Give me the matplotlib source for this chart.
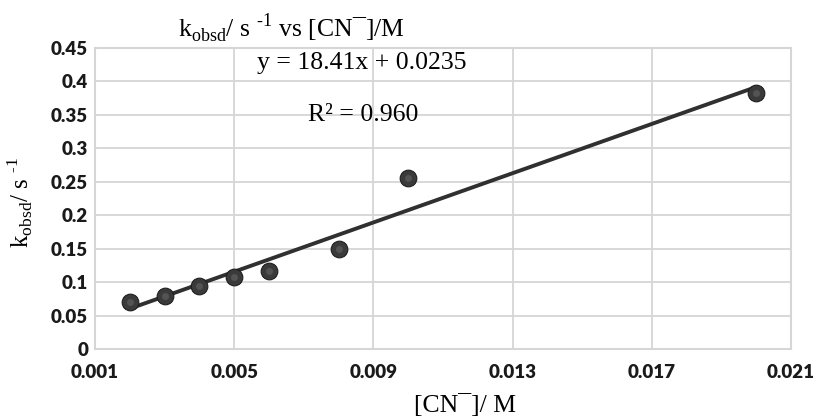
import matplotlib
matplotlib.use("Agg")
import matplotlib.pyplot as plt
import numpy as np

# Data
conc = [0.002, 0.003, 0.004, 0.005, 0.006, 0.008, 0.010, 0.020]
kobsd = [0.070, 0.079, 0.094, 0.107, 0.116, 0.150, 0.255, 0.383]
slope = 18.41
intercept = 0.0235
x_ticks = [0.001, 0.005, 0.009, 0.013, 0.017, 0.021]
x_tick_labels = ["0.001", "0.005", "0.009", "0.013", "0.017", "0.021"]
y_ticks = [0, 0.05, 0.1, 0.15, 0.2, 0.25, 0.3, 0.35, 0.4, 0.45]
y_tick_labels = ["0", "0.05", "0.1", "0.15", "0.2", "0.25", "0.3", "0.35", "0.4", "0.45"]

fig = plt.figure(figsize=(8.19, 4.18), dpi=100)
ax = fig.add_axes([95/819, 1-349/418, (791-95)/819, (349-48)/418])

grid_c = "#d6d6d6"
ax.set_xlim(0.001, 0.021)
ax.set_ylim(0, 0.45)
ax.set_xticks(x_ticks)
ax.set_xticklabels(x_tick_labels)
ax.set_yticks(y_ticks)
ax.set_yticklabels(y_tick_labels)
ax.grid(True, color=grid_c, linewidth=1.3)
ax.set_axisbelow(True)
for s in ax.spines.values():
    s.set_color(grid_c)
    s.set_linewidth(1.5)
ax.tick_params(length=0, pad=5)
ax.tick_params(axis="x", pad=11)
for lab in ax.get_xticklabels() + ax.get_yticklabels():
    lab.set_fontfamily("Lato")
    lab.set_fontweight("heavy")
    lab.set_fontsize(13.5)
    lab.set_color("#1a1a1a")

# Fit line
xf = np.array([conc[0], conc[-1]])
ax.plot(xf, slope * xf + intercept, color="#303030", linewidth=2.8, solid_capstyle="round", zorder=2)

# Points
ax.plot(conc, kobsd, linestyle="none", marker="o", markersize=12,
        markerfacecolor="#3a3a3a", markeredgecolor="#1e1e1e", markeredgewidth=0.8, zorder=3)
ax.plot(conc, kobsd, linestyle="none", marker="o", markersize=5,
        markerfacecolor="#5a5a5a", markeredgecolor="none", zorder=4, alpha=0.8)

serif = "Liberation Serif"
hy = "\u2010"
fig.text(291/819, 1-28/418,
         r"k$_{\mathregular{obsd}}$/ s $^{\mathregular{" + hy + r"1}}$ vs [CN¯]/M",
         ha="center", va="center", fontsize=18.5, family=serif)
fig.text(362/819, 1-63/418, "y = 18.41x + 0.0235", ha="center", va="center",
         fontsize=18.5, family=serif)
fig.text(363/819, 1-115/418, "R² = 0.960", ha="center", va="center",
         fontsize=18.5, family=serif)
fig.text(465/819, 1-405/418, "[CN¯]/ M", ha="center", va="center",
         fontsize=18.5, family=serif)
fig.text(20/819, 1-202/418,
         r"k$_{\mathregular{obsd}}$/ s $^{\mathregular{" + hy + r"1}}$",
         ha="center", va="center", rotation=90, fontsize=18, family=serif)

fig.savefig("out.png", dpi=100)
